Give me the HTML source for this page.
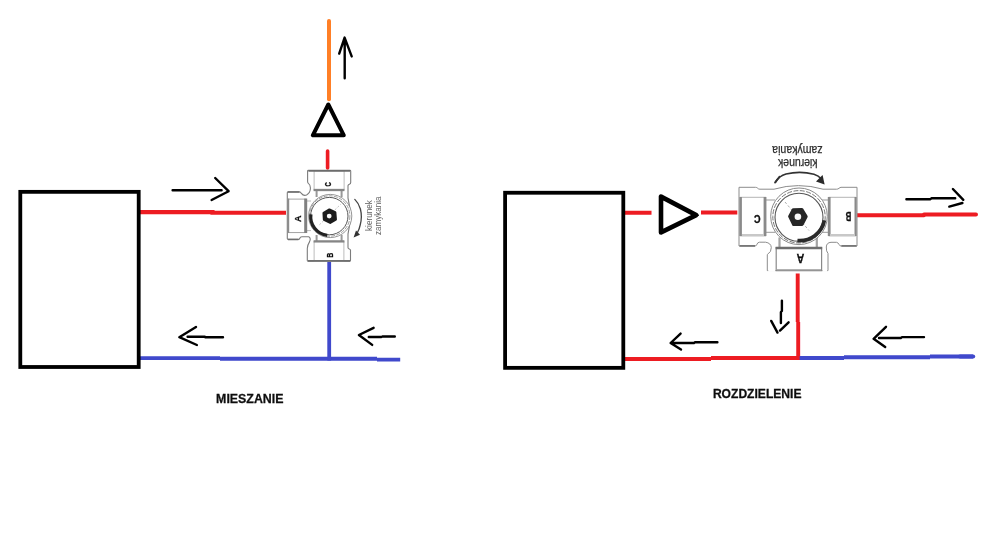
<!DOCTYPE html>
<html lang="pl">
<head>
<meta charset="utf-8">
<title>Zawór trójdrogowy - mieszanie i rozdzielenie</title>
<style>
html,body{margin:0;padding:0;background:#fff;}
body{width:1000px;height:539px;overflow:hidden;}
svg{display:block;}
text{font-family:"Liberation Sans",Arial,sans-serif;}
</style>
</head>
<body>
<svg width="1000" height="539" viewBox="0 0 1000 539">
<defs>
  <filter id="b1" x="-10%" y="-10%" width="120%" height="120%"><feGaussianBlur stdDeviation="0.55"/></filter>
  <filter id="b2" x="-10%" y="-10%" width="120%" height="120%"><feGaussianBlur stdDeviation="0.5"/></filter>
  <filter id="b3" x="-5%" y="-5%" width="110%" height="110%"><feGaussianBlur stdDeviation="0.35"/></filter>
</defs>
<rect width="1000" height="539" fill="#fff"/>

<!-- ================= LEFT: MIESZANIE ================= -->
<g filter="url(#b3)">
<g fill="none" stroke-linecap="butt">
  <!-- red supply -->
  <path d="M139,212.1 H212.5 V212.8 H286" stroke="#ed1c24" stroke-width="4.1" stroke-linejoin="miter"/>
  <!-- blue return -->
  <path d="M139,358.1 H220 M220,358.8 H377 M377,359.6 H400.2" stroke="#3f48cc" stroke-width="3.9"/>
  <path d="M329.2,261.6 V360.6" stroke="#3f48cc" stroke-width="3.8"/>
  <!-- orange -->
  <path d="M329,21 V99.2" stroke="#ff7f27" stroke-width="4" stroke-linecap="round"/>
  <!-- short red -->
  <path d="M327.6,151 V168" stroke="#ed1c24" stroke-width="3.6" stroke-linecap="round"/>
</g>
<!-- boiler box -->
<rect x="20.3" y="191.85" width="118.4" height="175.15" fill="#fff" stroke="#000" stroke-width="3.8"/>
<!-- pump triangle -->
<path d="M328.3,104.5 L312.8,135.3 H343.8 Z" fill="#fff" stroke="#000" stroke-width="4" stroke-linejoin="round"/>
<!-- arrows -->
<g fill="none" stroke="#000" stroke-width="2.4" stroke-linecap="round" stroke-linejoin="round">
  <path d="M172.6,190.2 H221.6 M215.2,178 L228.6,191.2 L211.6,200"/>
  <path d="M344.7,78.2 V38 M339.2,53.6 L344.6,37.6 L351.7,56.4"/>
  <path d="M187.6,336.7 H204.8 L205.4,337.3 H223 M196,326.9 L179.3,337.2 L196.9,345"/>
  <path d="M368.8,337 H381.4 L382.4,336.5 H394.8 M373.6,327.8 L358.9,335 L372.2,344.9"/>
</g>
</g>

<g>
  <g filter="url(#b1)">
    <!-- body outline -->
    <path d="M308.4,170.3 H349.9 Q350.7,170.3 350.7,171.1 V182.4 Q350.7,183.8 349.4,184.2 T348,185.6 V198 Q352.4,215.5 348,234 V247.4 Q348,248.6 349.3,249 T350.5,250.4 V260.4 Q350.5,261.2 349.7,261.2 H308.1 Q307.3,261.2 307.3,260.4 V248.6 Q307.4,245 309.6,241.6 Q311.2,238 308.8,236.7 H302 Q300.3,236.9 299.8,238.2 T298.2,239.4 H288.1 Q287.3,239.4 287.3,238.6 V192.7 Q287.3,191.9 288.1,191.9 H299.2 Q300.6,192 301.4,193.4 Q303.4,196.2 306.6,195 Q310.6,192.6 310.4,187.8 Q310.2,184.6 308.6,183.6 Q307.6,183 307.6,181.6 V171.1 Q307.6,170.3 308.4,170.3 Z" fill="#fff" stroke="#7c7c7c" stroke-width="1.1"/>
    <path d="M288,192 H299.4 M288,239.4 H298.4" stroke="#6e6e6e" stroke-width="1.5" fill="none"/>
    <!-- necks -->
    <path d="M316.6,190 V197 M341.6,190 V197 M316.6,235 V241 M341.6,235 V241" stroke="#999" stroke-width="2" fill="none"/>
    <path d="M307,201 H311 M307,230.6 H311" stroke="#aaa" stroke-width="0.8" fill="none"/>
    <!-- port C -->
    <rect x="314.1" y="170.8" width="30" height="19.2" fill="#fff" stroke="#b5b5b5" stroke-width="0.9"/>
    <path d="M308.4,170.9 H350" stroke="#6c6c6c" stroke-width="1.8" fill="none"/>
    <path d="M313.6,190 H344.4" stroke="#858585" stroke-width="2.3" fill="none"/>
    <!-- port B -->
    <rect x="314.1" y="241.4" width="29.8" height="19.6" fill="#fff" stroke="#b5b5b5" stroke-width="0.9"/>
    <path d="M313.6,241.4 H344.4" stroke="#858585" stroke-width="2.3" fill="none"/>
    <path d="M308,260.9 H350" stroke="#707070" stroke-width="1.6" fill="none"/>
    <!-- port A -->
    <rect x="287.8" y="199.1" width="18.4" height="33.5" fill="#fff" stroke="#999" stroke-width="0.9"/>
    <path d="M305.7,198.6 V233" stroke="#808080" stroke-width="3" fill="none"/>
    <path d="M288.2,198.6 V233" stroke="#8c8c8c" stroke-width="2" fill="none"/>
    <!-- circles -->
    <circle cx="330.2" cy="216" r="21.6" fill="#fff" stroke="#8a8a8a" stroke-width="0.9"/>
    <circle cx="329.7" cy="216" r="20.2" fill="none" stroke="#888" stroke-width="0.8" stroke-dasharray="4 1.2"/>
    <circle cx="329.3" cy="216.1" r="18.7" fill="none" stroke="#555" stroke-width="1"/>
    <path d="M319.4,224.8 L340.8,204.2" stroke="#aaa" stroke-width="0.7" stroke-dasharray="2 1.6" fill="none"/>
    <!-- thick arc -->
    <path d="M310.9,214.4 A18.5,18.5 0 0 0 327.2,235.3" stroke="#222" stroke-width="3.2" fill="none"/>
    <!-- nut -->
    <path d="M329.4,209.6 L335.2,212.2 L335.8,219.4 L330.2,222.8 L324,219.8 L323.6,213 Z" fill="#1e1e1e" stroke="#1e1e1e" stroke-width="2.3" stroke-linejoin="round"/>
    <circle cx="329.2" cy="216.1" r="2.4" fill="#f8f8f8"/>
    <!-- direction arrow -->
    <path d="M354.8,199.4 Q358.6,203 360.4,209 Q362.4,217 360.2,225 Q359.4,229 357.4,232.6" stroke="#444" stroke-width="1.3" fill="none" stroke-linecap="round"/>
    <path d="M353.6,237.4 L356,230.6 L360,234.8 Z" fill="#333"/>
  </g>
  <g filter="url(#b2)" font-family="'Liberation Sans', Arial, sans-serif" fill="#606060">
    <text transform="translate(371.6,231) rotate(-90)" font-size="9.2" textLength="30.8" lengthAdjust="spacingAndGlyphs">kierunek</text>
    <text transform="translate(381.4,235) rotate(-90)" font-size="9.2" textLength="38.4" lengthAdjust="spacingAndGlyphs">zamykania</text>
    <text transform="translate(301.1,222.1) rotate(-90)" font-size="9.9" font-weight="bold" textLength="6.5" lengthAdjust="spacingAndGlyphs" fill="#111" stroke="#111" stroke-width="0.3">A</text>
    <text transform="translate(332.8,257.5) rotate(-90)" font-size="9.2" font-weight="bold" textLength="4.7" lengthAdjust="spacingAndGlyphs" fill="#111" stroke="#111" stroke-width="0.3">B</text>
    <text transform="translate(331.2,186.5) rotate(-90)" font-size="9.9" font-weight="bold" textLength="4.3" lengthAdjust="spacingAndGlyphs" fill="#111" stroke="#111" stroke-width="0.3">C</text>
  </g>
</g>
<text x="216.1" y="403" font-size="13.5" font-weight="bold" fill="#111" stroke="#111" stroke-width="0.3" textLength="67.4" lengthAdjust="spacingAndGlyphs" filter="url(#b3)">MIESZANIE</text>

<!-- ================= RIGHT: ROZDZIELENIE ================= -->
<g filter="url(#b3)">
<g fill="none">
  <path d="M625,212.8 H651.5 M701,212.6 H737.3" stroke="#ed1c24" stroke-width="4"/>
  <path d="M857,215.2 H924 M924,214.5 H976" stroke="#ed1c24" stroke-width="4" stroke-linecap="round"/>
  <path d="M797.7,273.5 V322 M798.2,322 V360" stroke="#ed1c24" stroke-width="3.9"/>
  <path d="M625,358.9 H711 M711,358 H800" stroke="#ed1c24" stroke-width="4"/>
  <path d="M799.6,358 H844 M844,357.3 H930 M930,356.6 H973" stroke="#3f48cc" stroke-width="4"/><path d="M960,356.6 H973.2" stroke="#3f48cc" stroke-width="4" stroke-linecap="round"/>
</g>
<rect x="505.1" y="192.75" width="118.2" height="175.1" fill="#fff" stroke="#000" stroke-width="3.8"/>
<path d="M661,196.6 V232.4 L696.2,215.1 Z" fill="#fff" stroke="#000" stroke-width="4.6" stroke-linejoin="round"/><path d="M694,215.1 L698.2,215.2" stroke="#000" stroke-width="1.6" stroke-linecap="round" fill="none"/>
<g fill="none" stroke="#000" stroke-width="2.4" stroke-linecap="round" stroke-linejoin="round">
  <path d="M906.4,199.2 H930.4 L931.4,198.3 H955.2 M952.9,189 L963.3,199.8 M949.3,206.6 L962.4,203"/>
  <path d="M671,343 H694 L695,342.3 H717.4 M680.6,333.6 L670.6,343 L681,349.5"/>
  <path d="M879,338 H900.8 L902,337.1 H924 M886,326.8 L873.6,338.8 L885.2,347.1"/>
  <path d="M781.9,300.6 V311 L780.9,312 V323 M771.2,320.9 L777.5,332.6 M788.6,322.3 L780,330.6"/>
</g>
</g>

<g transform="">
  <g filter="url(#b1)">
    <!-- body outline -->
    <path d="M739,187.3 H755.5 Q757,187.3 757.8,188.3 T760,189.2 H774 Q786,185.6 798.5,185.6 T823,189.2 H836.5 Q838,189.2 839,188.3 T841,187.3 H857 V246 H841 Q839.6,246 839,244.4 T836.5,242.3 H831 Q826.5,242.6 826.3,247 T828,253.5 V270.6 H767.3 V254.5 Q771.6,252 771.3,247.5 T765.5,242.2 H759.5 Q757.5,242.4 757,244.2 T755,246 H739 Z" fill="#fff" stroke="#8c8c8c" stroke-width="1"/>
    <!-- necks -->
    <path d="M766,200 H775 M766,232.3 H775 M822,200 H829 M822,232.3 H829" stroke="#999" stroke-width="1" fill="none"/>
    <path d="M779.5,237.5 V247 M816.8,237.5 V247" stroke="#a4a4a4" stroke-width="2.2" fill="none"/>
    <path d="M768.2,270.6 H775.4 M822.4,270.6 H827.2" stroke="#fff" stroke-width="2.4" fill="none"/>
    <path d="M739.6,245.8 H755 M841.4,245.8 H856.6" stroke="#777" stroke-width="1.7" fill="none"/>
    <!-- port C -->
    <rect x="740.6" y="197.3" width="25" height="38.6" fill="#fff" stroke="#b5b5b5" stroke-width="1"/>
    <path d="M740.6,197 V236" stroke="#8a8a8a" stroke-width="2.6" fill="none"/>
    <path d="M765,197 V236" stroke="#8a8a8a" stroke-width="2.8" fill="none"/>
    <path d="M742,235 H764" stroke="#c8c8c8" stroke-width="2" fill="none"/>
    <!-- port B -->
    <rect x="829" y="197.3" width="26.5" height="38.6" fill="#fff" stroke="#b5b5b5" stroke-width="1"/>
    <path d="M829.2,197 V236" stroke="#8a8a8a" stroke-width="2.8" fill="none"/>
    <path d="M855.6,197 V236" stroke="#8a8a8a" stroke-width="2.2" fill="none"/>
    <path d="M830,235 H855" stroke="#c8c8c8" stroke-width="2" fill="none"/>
    <!-- port A -->
    <rect x="776.2" y="247.6" width="45.4" height="23" fill="#fff" stroke="#8a8a8a" stroke-width="1.2"/>
    <path d="M775.6,248 H822.2" stroke="#6e6e6e" stroke-width="2.6" fill="none"/>
    <path d="M777,270 H821" stroke="#999" stroke-width="1.6" fill="none"/>
    <!-- circles -->
    <circle cx="799" cy="216.3" r="28.3" fill="#fff" stroke="#8a8a8a" stroke-width="1"/>
    <circle cx="799" cy="216.8" r="26.2" fill="none" stroke="#777" stroke-width="1" stroke-dasharray="5 1.5"/>
    <circle cx="799" cy="217.3" r="24" fill="none" stroke="#555" stroke-width="1.1"/>
    <!-- dashed diagonal -->
    <path d="M785,202 L809,230.5" stroke="#999" stroke-width="0.8" stroke-dasharray="2.5 2" fill="none"/>
    <!-- thick arc -->
    <path d="M824.4,220.4 A25.2,25.2 0 0 1 797.4,240.6" stroke="#2a2a2a" stroke-width="3.7" fill="none"/>
    <!-- hex nut -->
    <path d="M789.6,216.4 L793.2,209.8 L801.8,209.4 L806.2,216.6 L802.2,224.4 L793.6,224.6 Z" fill="#262626" stroke="#262626" stroke-width="3" stroke-linejoin="round"/>
    <circle cx="797.9" cy="216.8" r="3.3" fill="#f8f8f8"/>
    <!-- direction arc arrow -->
    <path d="M775.6,182 Q779,176 786,174 Q800,170.6 814,174.2 Q818.5,175.6 821.5,179" stroke="#333" stroke-width="1.6" fill="none" stroke-linecap="round"/>
    <path d="M775,182.6 L779.6,176.6" stroke="#333" stroke-width="1.8" fill="none" stroke-linecap="round"/>
    <path d="M824.6,184.6 L816,181.6 L822.6,175 Z" fill="#2a2a2a"/>
  </g>
  <g filter="url(#b2)" font-family="'Liberation Sans', Arial, sans-serif" fill="#2e2e2e">
    <text transform="translate(822.6,146.2) rotate(180)" font-size="12" textLength="50.4" stroke="#2e2e2e" stroke-width="0.25" lengthAdjust="spacingAndGlyphs">zamykania</text>
    <text transform="translate(817.6,159) rotate(180)" font-size="12" textLength="39.6" stroke="#2e2e2e" stroke-width="0.25" lengthAdjust="spacingAndGlyphs">kierunek</text>
    <text transform="translate(804.3,254.3) rotate(180)" font-size="13.6" font-weight="bold" textLength="7.6" lengthAdjust="spacingAndGlyphs" fill="#111" stroke="#111" stroke-width="0.4">A</text>
    <text transform="translate(851.3,211.8) rotate(180)" font-size="12" font-weight="bold" textLength="5.6" lengthAdjust="spacingAndGlyphs" fill="#111" stroke="#111" stroke-width="0.4">B</text>
    <text transform="translate(760.4,214.8) rotate(180)" font-size="10" font-weight="bold" textLength="6.4" lengthAdjust="spacingAndGlyphs" fill="#111" stroke="#111" stroke-width="0.4">C</text>
  </g>
</g>
<text x="712.9" y="397.9" font-size="13.6" font-weight="bold" fill="#111" stroke="#111" stroke-width="0.3" textLength="88.6" lengthAdjust="spacingAndGlyphs" filter="url(#b3)">ROZDZIELENIE</text>
</svg>
</body>
</html>
